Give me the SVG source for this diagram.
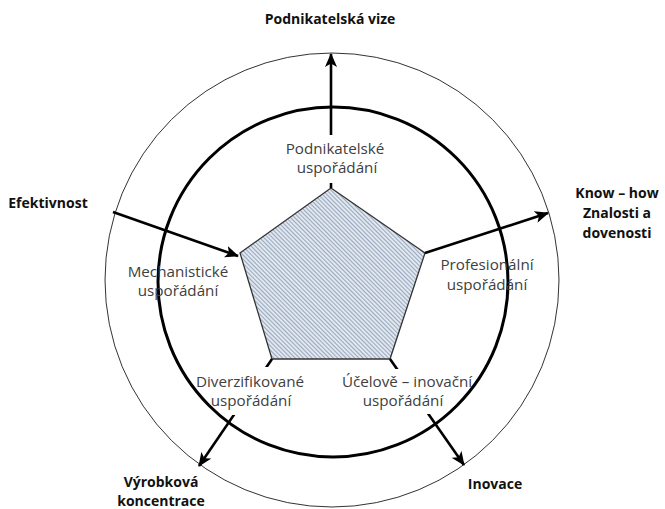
<svg xmlns="http://www.w3.org/2000/svg" width="665" height="509" viewBox="0 0 665 509">
<defs>
<style>
.lbl{font-family:"Open Sans","Liberation Sans",sans-serif;font-size:15.2px;fill:#404040;text-anchor:middle}
.bold{font-family:"Open Sans","Liberation Sans",sans-serif;font-size:14px;font-weight:bold;fill:#111;text-anchor:middle}
.arr{stroke:#000;stroke-width:2.6;fill:none;marker-end:url(#ah)}
.mask{fill:#fff}
</style>
<marker id="ah" viewBox="0 0 14 12" refX="13" refY="6" markerWidth="14" markerHeight="12" markerUnits="userSpaceOnUse" orient="auto">
<path d="M0,0 L14,6 L0,12 L3.5,6 Z" fill="#000"/>
</marker>
<pattern id="hatch" width="3" height="3" patternUnits="userSpaceOnUse" patternTransform="rotate(-45)">
<rect width="3" height="3" fill="#e3eaf2"/>
<line x1="0.6" y1="0" x2="0.6" y2="3" stroke="#7589a0" stroke-width="0.75"/>
</pattern>
</defs>
<rect width="665" height="509" fill="#fff"/>
<g id="outer-circle"><circle cx="332" cy="280" r="227" fill="none" stroke="#333" stroke-width="1"/></g>
<g id="pentagon"><polygon points="331,188 425,253 390,359 272,359 240,253" fill="url(#hatch)" stroke="#333" stroke-width="1.3"/></g>
<g id="connectors">
<line class="arr" x1="331" y1="188" x2="331" y2="54"/>
<line class="arr" x1="113" y1="212" x2="238" y2="256"/>
<line class="arr" x1="425" y1="253" x2="548" y2="213"/>
<line class="arr" x1="272" y1="359" x2="199" y2="466"/>
<line class="arr" x1="390" y1="359" x2="464" y2="465"/>
</g>
<g id="masks">
<rect class="mask" x="280" y="135" width="114" height="48"/>
<rect class="mask" x="188" y="367" width="126" height="48"/>
<rect class="mask" x="326" y="369" width="162" height="45"/>
</g>
<g id="inner-circle"><circle cx="333" cy="282" r="175" fill="none" stroke="#000" stroke-width="3"/></g>
<g id="n-podnikatelske"><text class="lbl" x="335" y="154">Podnikatelské</text><text class="lbl" x="337" y="173">uspořádání</text></g>
<g id="n-mechanisticke"><text class="lbl" x="178" y="277">Mechanistické</text><text class="lbl" x="178" y="296">uspořádání</text></g>
<g id="n-profesionalni"><text class="lbl" x="487" y="270">Profesionální</text><text class="lbl" x="487" y="290">uspořádání</text></g>
<g id="n-diverzifikovane"><text class="lbl" x="250" y="387">Diverzifikované</text><text class="lbl" x="251" y="406">uspořádání</text></g>
<g id="n-ucelove"><text class="lbl" x="407" y="387">Účelově – inovační</text><text class="lbl" x="403" y="406">uspořádání</text></g>
<g id="o-vize"><text class="bold" x="330" y="24">Podnikatelská vize</text></g>
<g id="o-efektivnost"><text class="bold" x="48" y="208">Efektivnost</text></g>
<g id="o-knowhow"><text class="bold" x="617" y="198">Know – how</text><text class="bold" x="617" y="218">Znalosti a</text><text class="bold" x="617" y="238">dovenosti</text></g>
<g id="o-vyrobkova"><text class="bold" x="161" y="487">Výrobková</text><text class="bold" x="161" y="505.5">koncentrace</text></g>
<g id="o-inovace"><text class="bold" x="495" y="489">Inovace</text></g>
</svg>
